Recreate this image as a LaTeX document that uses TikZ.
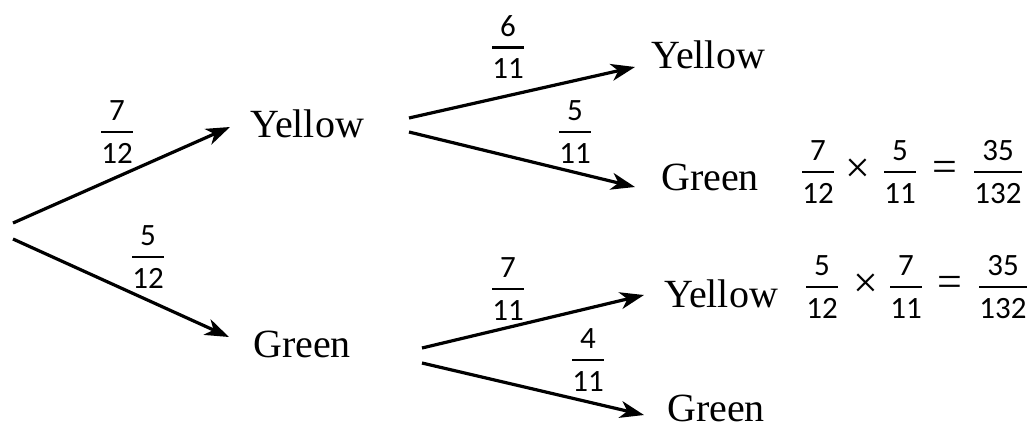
\documentclass[tikz,border=0pt]{standalone}
\usepackage{fontspec}
\setmainfont{Liberation Serif}
\newfontfamily\digitfont{Carlito}
\usetikzlibrary{arrows.meta}
\newcommand\myfr[2]{\vbox{\offinterlineskip\halign{\hfil##\hfil\cr #1\cr\noalign{\kern10pt\hrule height 2.6pt\kern10pt}#2\cr}}}
\begin{document}
\begin{tikzpicture}[x=1pt,y=-1pt,
  word/.style={anchor=base west,inner sep=0pt,font=\fontsize{40}{42}\selectfont},
  frac/.style={anchor=center,inner sep=0pt,font=\fontsize{31}{32}\digitfont},
  sym/.style={anchor=center,inner sep=0pt,font=\fontsize{44}{46}\selectfont},
  arr/.style={line width=3.2pt,-{Stealth[length=24pt,width=17pt,inset=7pt]}}]
\useasboundingbox (0,0) rectangle (1032,429);
% nodes
\node[word] (y1) at (250,137) {Yellow};
\node[word] (g1) at (253,357) {Green};
\node[word] (yy) at (651,68) {Yellow};
\node[word] (yg) at (661,190) {Green};
\node[word] (gy) at (664,307) {Yellow};
\node[word] (gg) at (667,421) {Green};
% coordinates
\coordinate (r1) at (13,223);
\coordinate (r2) at (13,239);
\coordinate (t1) at (230,127);
\coordinate (t2) at (229,337);
\coordinate (y1a) at (409,118);
\coordinate (y1b) at (409,132);
\coordinate (tyy) at (635,67);
\coordinate (tyg) at (635,187);
\coordinate (g1a) at (422,348);
\coordinate (g1b) at (422,363);
\coordinate (tgy) at (644,295);
\coordinate (tgg) at (644,415);
% arrows
\draw[arr] (r1) -- (t1);
\draw[arr] (r2) -- (t2);
\draw[arr] (y1a) -- (tyy);
\draw[arr] (y1b) -- (tyg);
\draw[arr] (g1a) -- (tgy);
\draw[arr] (g1b) -- (tgg);
% branch labels
\node[frac] (l1) at (117,132) {\myfr{7}{12}};
\node[frac] (l2) at (148,257) {\myfr{5}{12}};
\node[frac] (l3) at (508,47) {\myfr{6}{11}};
\node[frac] (l4) at (575,132) {\myfr{5}{11}};
\node[frac] (l5) at (508,289) {\myfr{7}{11}};
\node[frac] (l6) at (588,360) {\myfr{4}{11}};
% equations
\node[frac] (e1) at (818,172) {\myfr{7}{12}};
\node[sym] (x1) at (858,171) {×};
\node[frac] (e2) at (900,172) {\myfr{5}{11}};
\node[sym] (q1) at (945,171) {=};
\node[frac] (e3) at (998,172) {\myfr{35}{132}};
\node[frac] (e4) at (822,287) {\myfr{5}{12}};
\node[sym] (x2) at (866,286) {×};
\node[frac] (e5) at (906,287) {\myfr{7}{11}};
\node[sym] (q2) at (950,286) {=};
\node[frac] (e6) at (1003,287) {\myfr{35}{132}};
\end{tikzpicture}
\end{document}
